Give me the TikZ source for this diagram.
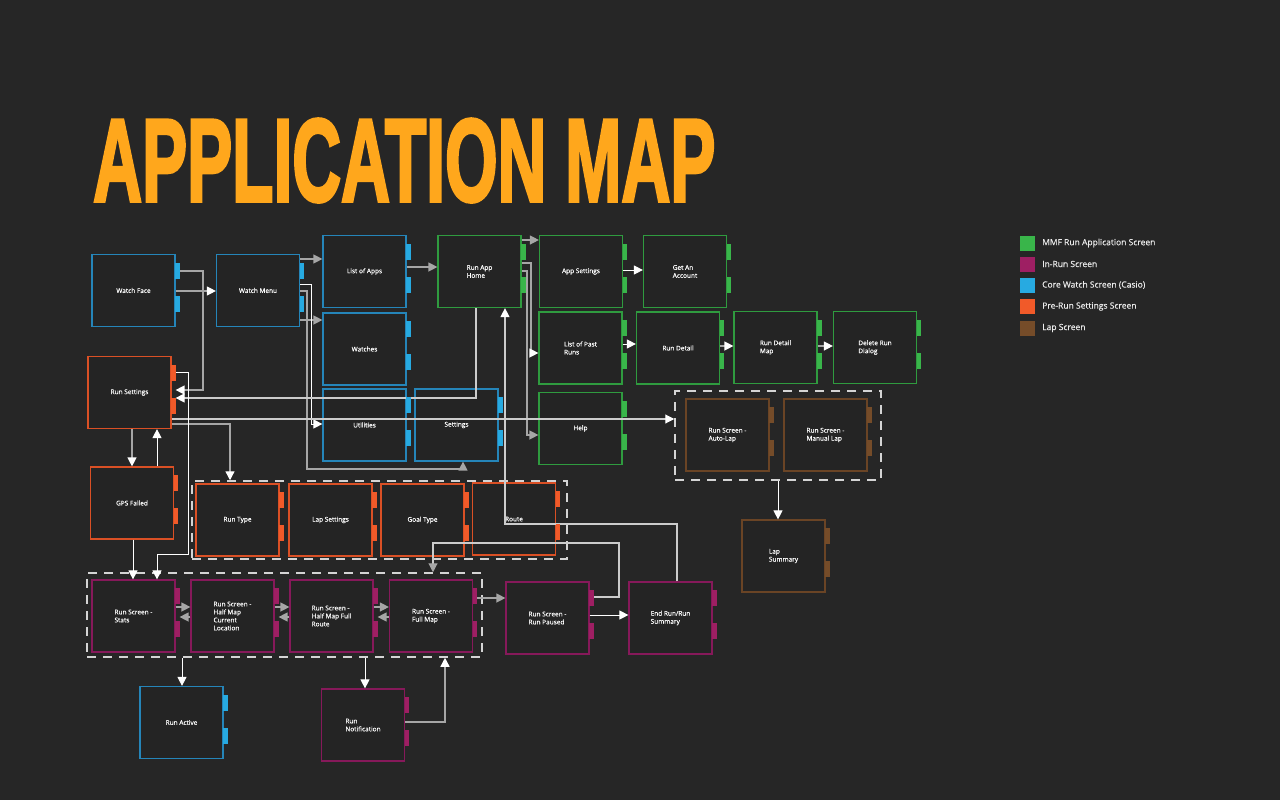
\documentclass[tikz,border=0pt]{standalone}
\usepackage{fontspec}
\usepackage{graphicx}
\setmainfont{Open Sans}
\newfontfamily\boxfont[FakeBold=0.3]{Open Sans}
\newfontfamily\titlefont[FakeBold=3]{Liberation Sans Bold}
\usetikzlibrary{arrows.meta,calc}
\definecolor{bg}{HTML}{262626}
\definecolor{boxfill}{HTML}{242424}
\definecolor{cgreen}{HTML}{39B54A}
\definecolor{cgreenbd}{HTML}{2F9B3F}
\definecolor{cpurple}{HTML}{9E1F63}
\definecolor{cpurplebd}{HTML}{86195A}
\definecolor{cblue}{HTML}{27AAE1}
\definecolor{cbluebd}{HTML}{2585B9}
\definecolor{corange}{HTML}{F15A29}
\definecolor{corangebd}{HTML}{DA5025}
\definecolor{cbrown}{HTML}{754C29}
\definecolor{cbrownbd}{HTML}{6A4425}
\definecolor{lgray}{HTML}{A6A6A6}
\definecolor{llgray}{HTML}{CCCCCC}
\definecolor{titleor}{HTML}{FFA71C}
\definecolor{grpline}{HTML}{D4D4D4}
\newcommand\scrtabs[2]{%
  \fill[#2] ($(#1.north east)+(-0.6,9)$) rectangle ++(4.6,16);
  \fill[#2] ($(#1.north east)+(-0.6,42)$) rectangle ++(4.6,16);}
\tikzset{
  scr/.style={draw=#1, fill=boxfill, line width=1.2pt, minimum width=83pt,
    minimum height=72pt, inner sep=2pt, align=left, text=white,
    font=\boxfont\fontsize{6.5}{8}\selectfont},
  grp/.style={draw=grpline, line width=1.5pt, dash pattern=on 9pt off 7pt},
  gl/.style={draw=lgray, line width=1.3pt, -{Triangle[length=9pt,width=9pt]}},
  glw/.style={draw=lgray, line width=1.3pt, -{Triangle[length=9pt,width=9pt,color=white]}},
  wl/.style={draw=white, line width=1pt, -{Triangle[length=9pt,width=9pt]}},
  ll/.style={draw=llgray, line width=1.1pt, -{Triangle[length=9pt,width=9pt,color=white]}},
  llg/.style={draw=llgray, line width=1.1pt, -{Triangle[length=9pt,width=9pt,color=lgray]}},
  legsq/.style={minimum size=15pt, inner sep=0pt},
  legtxt/.style={anchor=west, inner sep=0pt, text=white!92!black, font=\boxfont\fontsize{8.5}{10}\selectfont},
}
\begin{document}
\begin{tikzpicture}[x=1pt,y=-1pt]
\fill[bg] (0,0) rectangle (1280,800);
\useasboundingbox (0,0) rectangle (1280,800);

% title
\node[anchor=base west, inner sep=0pt, text=titleor] (title) at (93,201)
  {\resizebox{622pt}{82pt}{\titlefont APPLICATION MAP}};

% groups
\node[grp, minimum width=206pt, minimum height=89pt] (lapgrp) at (778,435.5) {};
\node[grp, minimum width=375pt, minimum height=78pt] (pregrp) at (379.5,520) {};
\node[grp, minimum width=395pt, minimum height=84pt] (rungrp) at (284.5,615) {};

% screens
\node[scr=cbluebd] (wf) at (133.5,290.5) {Watch Face};
\node[scr=cbluebd] (wm) at (258,290.5) {Watch Menu};
\node[scr=cbluebd] (la) at (364.5,271.5) {List of Apps};
\node[scr=cgreenbd] (rah) at (479.5,271.5) {Run App\\Home};
\node[scr=cgreenbd] (as) at (581,271.5) {App Settings};
\node[scr=cgreenbd] (ga) at (685,271.5) {Get An\\Account};
\node[scr=cbluebd] (wa) at (364.5,349) {Watches};
\node[scr=cbluebd] (ut) at (364.5,425) {Utilities};
\node[scr=cbluebd] (se) at (456.5,425) {Settings};
\node[scr=cgreenbd] (he) at (580.5,428.5) {Help};
\node[scr=cgreenbd] (lpr) at (580.5,348) {List of Past\\Runs};
\node[scr=cgreenbd] (rd) at (678,348) {Run Detail};
\node[scr=cgreenbd] (rdm) at (775.5,347.5) {Run Detail\\Map};
\node[scr=cgreenbd] (drd) at (875,347.5) {Delete Run\\Dialog};
\node[scr=cbrownbd] (al) at (727.5,435) {Run Screen -\\Auto-Lap};
\node[scr=cbrownbd] (ml) at (825.5,435) {Run Screen -\\Manual Lap};
\node[scr=cbrownbd] (ls) at (783.5,556) {Lap\\Summary};
\node[scr=corangebd] (rs) at (129.5,392.5) {Run Settings};
\node[scr=corangebd] (gps) at (132,503) {GPS Failed};
\node[scr=corangebd] (rt) at (237.5,520) {Run Type};
\node[scr=corangebd] (lset) at (330.5,520) {Lap Settings};
\node[scr=corangebd] (gt) at (422.5,520) {Goal Type};
\node[scr=corangebd] (ro) at (514,519) {Route};
\node[scr=cpurplebd] (st) at (133.5,616) {Run Screen -\\Stats};
\node[scr=cpurplebd] (hmcl) at (232.5,616) {Run Screen -\\Half Map\\Current\\Location};
\node[scr=cpurplebd] (hmfr) at (331.5,616) {Run Screen -\\Half Map Full\\Route};
\node[scr=cpurplebd] (fm) at (431,616) {Run Screen -\\Full Map};
\node[scr=cpurplebd] (rp) at (547.5,618) {Run Screen -\\Run Paused};
\node[scr=cpurplebd] (er) at (670.5,618) {End Run/Run\\Summary};
\node[scr=cbluebd] (ra) at (181.5,722.5) {Run Active};
\node[scr=cpurplebd] (rn) at (363,725) {Run\\Notification};

% connectors
\draw[glw] (wf.east |- 0,291) -- (wm.west |- 0,291);
\draw[glw, shorten >=4pt] (wf.east |- 0,271) -- (203,271) -- (203,390) -- (rs.east |- 0,390);
\draw[gl] (wm.east |- 0,259) -- (la.west |- 0,259);
\draw[gl] (wm.east |- 0,320) -- (wa.west |- 0,320);
\draw[wl] (wm.east |- 0,284) -- (311,284) -- (311,424) -- (ut.west |- 0,424);
\draw[gl] (wm.east |- 0,291) -- (307,291) -- (307,469) -- (463,469) -- (se.south -| 463,0);
\draw[gl] (la.east |- 0,267) -- (rah.west |- 0,267);
\draw[gl] (rah.east |- 0,240) -- (as.west |- 0,240);
\draw[wl] (as.east |- 0,270) -- (ga.west |- 0,270);
\draw[glw] (rah.east |- 0,263) -- (531,263) -- (531,353) -- (lpr.west |- 0,353);
\draw[gl] (rah.east |- 0,271) -- (527,271) -- (527,435) -- (he.west |- 0,435);
\draw[wl] (lpr.east |- 0,344) -- (rd.west |- 0,344);
\draw[glw] (rd.east |- 0,346) -- (rdm.west |- 0,346);
\draw[glw] (rdm.east |- 0,346) -- (drd.west |- 0,346);
\draw[ll, shorten >=4pt] (rah.south -| 476,0) -- (476,398) -- (rs.east |- 0,398);
\draw[ll] (rs.east |- 0,419) -- (lapgrp.west |- 0,419);
\draw[glw] (rs.east |- 0,424) -- (230,424) -- (pregrp.north -| 230,0);
\draw[glw] (rs.south -| 132,0) -- (gps.north -| 132,0);
\draw[wl] (gps.north -| 157,0) -- (rs.south -| 157,0);
\draw[wl] (rs.east |- 0,372) -- (188,372) -- (188,554) -- (157,554) -- (st.north -| 157,0);
\draw[wl] (gps.south -| 133,0) -- (st.north -| 133,0);
\draw[gl] (st.east |- 0,607) -- (hmcl.west |- 0,607);
\draw[gl, shorten >=4pt] (hmcl.west |- 0,617) -- (st.east |- 0,617);
\draw[gl] (hmcl.east |- 0,607) -- (hmfr.west |- 0,607);
\draw[gl, shorten >=4pt] (hmfr.west |- 0,617) -- (hmcl.east |- 0,617);
\draw[gl] (hmfr.east |- 0,607) -- (fm.west |- 0,607);
\draw[gl, shorten >=4pt] (fm.west |- 0,617) -- (hmfr.east |- 0,617);
\draw[gl] (fm.east |- 0,598) -- (rp.west |- 0,598);
\draw[wl] (rp.east |- 0,615) -- (er.west |- 0,615);
\draw[llg] (rp.east |- 0,597) -- (619,597) -- (619,543) -- (433,543) -- (rungrp.north -| 433,0);
\draw[ll] (er.north -| 677,0) -- (677,524) -- (505,524) -- (rah.south -| 505,0);
\draw[wl] (rungrp.south -| 182,0) -- (ra.north -| 182,0);
\draw[wl] (rungrp.south -| 365,0) -- (rn.north -| 365,0);
\draw[glw] (rn.east |- 0,722) -- (445,722) -- (rungrp.south -| 445,0);
\draw[wl] (lapgrp.south -| 778,0) -- (ls.north -| 778,0);

% tabs
\foreach \n/\c in {wf/cblue,wm/cblue,la/cblue,wa/cblue,ut/cblue,se/cblue,ra/cblue,
  rah/cgreen,as/cgreen,ga/cgreen,he/cgreen,lpr/cgreen,rd/cgreen,rdm/cgreen,drd/cgreen,
  al/cbrown,ml/cbrown,ls/cbrown,
  rs/corange,gps/corange,rt/corange,lset/corange,gt/corange,ro/corange,
  st/cpurple,hmcl/cpurple,hmfr/cpurple,fm/cpurple,rp/cpurple,er/cpurple,rn/cpurple}
  {\scrtabs{\n}{\c}}

% legend
\node[legsq, fill=cgreen] (lg1) at (1027.5,243) {};
\node[legtxt] (lt1) at (1042,243) {MMF Run Application Screen};
\node[legsq, fill=cpurple] (lg2) at (1027.5,264) {};
\node[legtxt] (lt2) at (1042,264) {In-Run Screen};
\node[legsq, fill=cblue] (lg3) at (1027.5,285) {};
\node[legtxt] (lt3) at (1042,285) {Core Watch Screen (Casio)};
\node[legsq, fill=corange] (lg4) at (1027.5,306.5) {};
\node[legtxt] (lt4) at (1042,306.5) {Pre-Run Settings Screen};
\node[legsq, fill=cbrown] (lg5) at (1027.5,328) {};
\node[legtxt] (lt5) at (1042,328) {Lap Screen};
\end{tikzpicture}
\end{document}
